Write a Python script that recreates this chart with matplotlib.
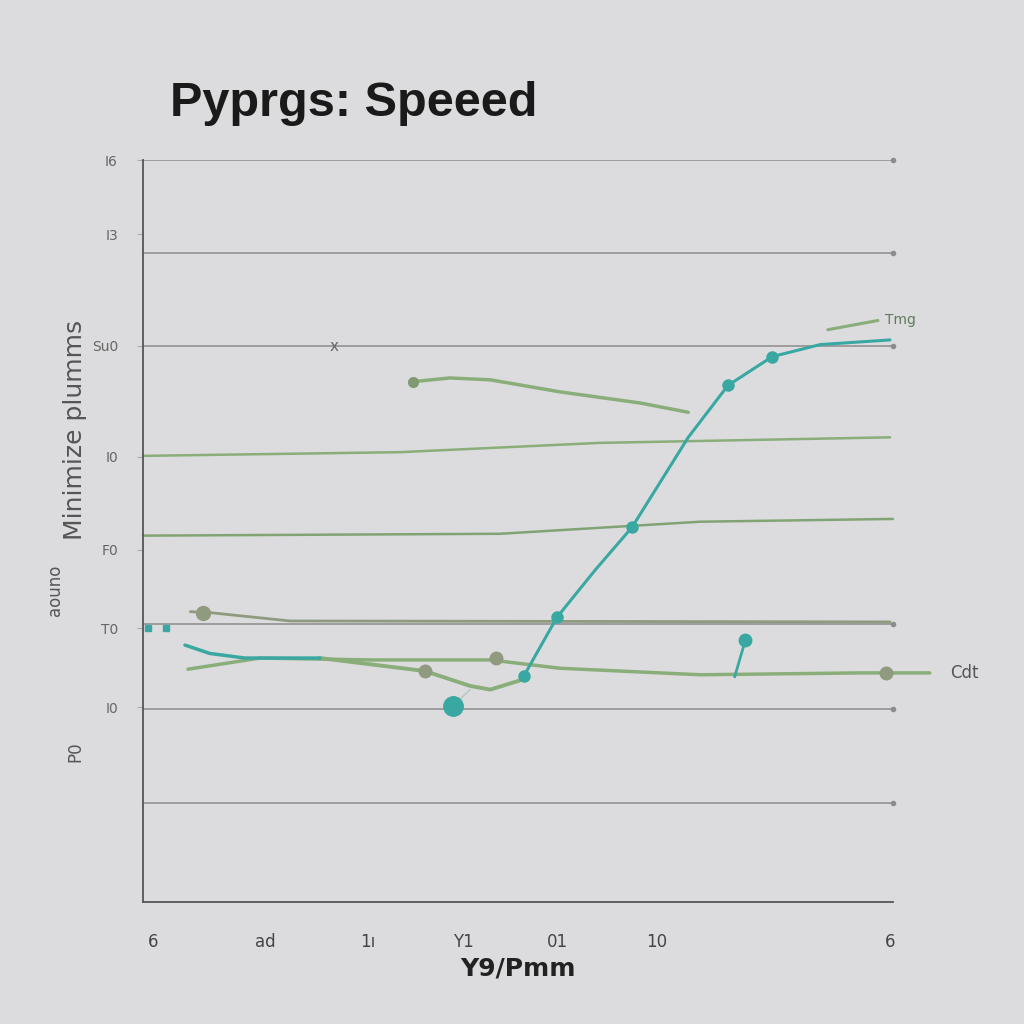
import matplotlib.pyplot as plt

# ---- data ----
grid_y = [1.07, 2.08, 3, 6, 7, 8]
ytick_pos = [8.0, 7.2, 6.0, 4.8, 3.8, 2.95, 2.1]
ytick_lbl = ['I6', 'I3', 'Su0', 'I0', 'F0', 'T0', 'I0']
xtick_pos = [0.13, 1.63, 2.99, 4.27, 5.52, 6.85, 9.96]
xtick_lbl = ['6', 'ad', '1ı', 'Y1', '01', '10', '6']

tmg_x = [5.08, 5.52, 6.03, 6.52, 7.27, 7.8, 8.39, 9.03, 9.96]
tmg_y = [2.44, 3.07, 3.58, 4.04, 5.01, 5.57, 5.88, 6.01, 6.06]
tmg_mk = [0, 1, 3, 5, 6]

teal_left_x = [0.56, 0.89, 1.36, 1.56, 2.36]
teal_left_y = [2.77, 2.68, 2.63, 2.63, 2.63]
teal_blob_x = [4.13, 4.36]
teal_blob_y = [2.11, 2.29]
teal_drop_x = [7.89, 8.03]
teal_drop_y = [2.43, 2.82]

upper_x = [3.6, 4.09, 4.63, 5.56, 6.63, 7.27]
upper_y = [5.61, 5.65, 5.63, 5.5, 5.38, 5.28]

line5_x = [0, 3.43, 6.09, 9.96]
line5_y = [4.81, 4.85, 4.95, 5.01]
line4_x = [0, 4.76, 7.43, 10]
line4_y = [3.95, 3.97, 4.10, 4.13]
line3_x = [0.63, 0.89, 1.96, 9.96]
line3_y = [3.13, 3.12, 3.03, 3.02]

cdt_x = [0.6, 1.56, 3.03, 4.63, 5.56, 7.43, 9.56, 10.49]
cdt_y = [2.51, 2.63, 2.61, 2.61, 2.52, 2.45, 2.47, 2.47]
dip_x = [2.36, 3.76, 4.36, 4.63, 5.03]
dip_y = [2.63, 2.49, 2.33, 2.29, 2.39]

short_x = [9.13, 9.8]
short_y = [6.17, 6.27]

bg = '#dcdcde'
teal = '#3aa8a2'
green = '#8aae7a'
olive = '#8f9a7e'
gray = '#8c8c8c'

fig = plt.figure(figsize=(10.24, 10.24), dpi=100, facecolor=bg)
ax = fig.add_axes([143/1024, 122/1024, 750/1024, 742/1024], facecolor=bg)
ax.set_xlim(0, 10)
ax.set_ylim(0, 8)

for y in grid_y:
    ax.plot([0, 10], [y, y], color=gray, lw=1.1, zorder=1)
    ax.plot([10], [y], 'o', color=gray, ms=3, clip_on=False, zorder=1)

kw = dict(clip_on=False, solid_capstyle='round')
ax.plot(line5_x, line5_y, color=green, lw=1.8, **kw)
ax.plot(line4_x, line4_y, color='#82a474', lw=1.8, **kw)
ax.plot(line3_x, line3_y, color=olive, lw=2.0, **kw)
ax.plot([0.8], [3.12], 'o', color=olive, ms=10, clip_on=False)
ax.plot(upper_x, upper_y, color=green, lw=2.5, **kw)
ax.plot([3.6], [5.61], 'o', color='#7f9a72', ms=7)
ax.plot(cdt_x, cdt_y, color=green, lw=2.5, **kw)
ax.plot(dip_x, dip_y, color=green, lw=2.8, **kw)
ax.plot([3.76, 4.7, 9.9], [2.49, 2.63, 2.47], 'o', color=olive, ms=9, clip_on=False)
ax.plot(short_x, short_y, color=green, lw=2.2, **kw)

ax.plot(tmg_x, tmg_y, color=teal, lw=2.2, marker='o', markevery=tmg_mk, ms=8, **kw)
ax.plot(teal_left_x, teal_left_y, color=teal, lw=2.5, **kw)
ax.plot([0.07, 0.3], [2.95, 2.95], 's', color=teal, ms=5, clip_on=False)
ax.plot(teal_blob_x, teal_blob_y, color='#b8c8c0', lw=1.2)
ax.plot([4.13], [2.11], 'o', color=teal, ms=14)
ax.plot(teal_drop_x, teal_drop_y, color=teal, lw=2)
ax.plot([8.03], [2.82], 'o', color=teal, ms=9)

ax.text(9.89, 6.27, 'Tmg', fontsize=10, color='#5f7a5a', va='center')
ax.text(10.76, 2.47, 'Cdt', fontsize=12, color='#555555', va='center', clip_on=False)
ax.text(2.55, 5.99, 'x', fontsize=11, color='#666666', ha='center', va='center')

for s in ['top', 'right']:
    ax.spines[s].set_visible(False)
ax.spines['left'].set_color('#555555')
ax.spines['bottom'].set_color('#555555')
ax.spines['left'].set_linewidth(1.3)
ax.spines['bottom'].set_linewidth(1.3)

ax.set_yticks(ytick_pos)
ax.set_yticklabels(ytick_lbl, fontsize=10, color='#666666')
ax.set_xticks(xtick_pos)
ax.set_xticklabels(xtick_lbl, fontsize=12, color='#444444')
ax.tick_params(axis='y', length=4, color='#aaaaaa', pad=14)
ax.tick_params(axis='x', length=0, pad=22)

ax.set_xlabel('Y9/Pmm', fontsize=18, fontweight='bold', color='#222222', labelpad=4)
fig.text(75/1024, 1 - 430/1024, 'Minimize plumms', rotation=90, fontsize=18,
         color='#555555', ha='center', va='center')
fig.text(55/1024, 1 - 590/1024, 'aouno', rotation=90, fontsize=12,
         color='#555555', ha='center', va='center')
fig.text(75/1024, 1 - 752/1024, 'P0', rotation=90, fontsize=12,
         color='#555555', ha='center', va='center')

fig.text(170/1024, 1 - 116/1024, 'Pyprgs: Speeed', fontsize=35, fontweight='bold',
         color='#1a1a1a', family=['Liberation Sans', 'DejaVu Sans'],
         ha='left', va='baseline')

fig.savefig('out.png', dpi=100, facecolor=bg)
